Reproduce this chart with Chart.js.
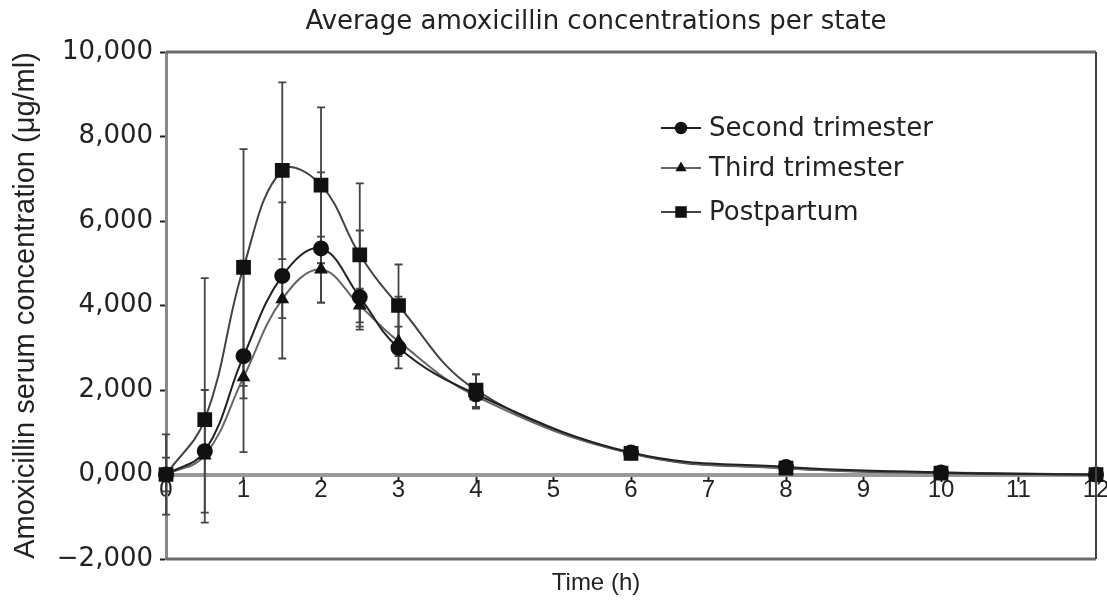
<!DOCTYPE html>
<html>
<head>
<meta charset="utf-8">
<script src="https://cdn.jsdelivr.net/npm/chart.js@4.4.1/dist/chart.umd.min.js"></script>
<style>
  html, body { margin: 0; padding: 0; background: #ffffff; }
  #wrap { width: 1107px; height: 601px; }
</style>
</head>
<body>
<div id="wrap"><canvas id="c" width="1107" height="601"></canvas></div>
<script>
// ---- data ----
const times = [0, 0.5, 1, 1.5, 2, 2.5, 3, 4, 6, 8, 10, 12];
const seriesLabels = ['Second trimester', 'Third trimester', 'Postpartum'];
const secondTrimester = [0, 550, 2800, 4700, 5350, 4200, 3000, 1900, 520, 180, 50, 0];
const thirdTrimester  = [0, 450, 2300, 4150, 4850, 4000, 3150, 1850, 500, 150, 50, 0];
const postpartum      = [0, 1300, 4900, 7200, 6850, 5200, 4000, 2000, 500, 150, 30, 0];
// error bar bounds (absolute values), null = no bar
const secondLow  = [null, -900, 530, 2745, 4070, 3430, 2510, 1560, null, null, null, null];
const secondHigh = [null, 2000, 5070, 6440, 7150, 5775, 3500, 2370, null, null, null, null];
const thirdLow   = [-400, null, 1800, 3700, 4070, 3600, 2800, 1600, null, null, null, null];
const thirdHigh  = [400, null, 2800, 4600, 5630, 4400, 4210, 2100, null, null, null, null];
const postLow    = [-950, -1140, 2100, 5100, 5000, 3500, 3030, 1600, null, null, null, null];
const postHigh   = [950, 4650, 7700, 9280, 8690, 6890, 4970, 2370, null, null, null, null];
const yTickValues = [-2000, 0, 2000, 4000, 6000, 8000, 10000];
const yTickLabels = ['\u22122,000', '0,000', '2,000', '4,000', '6,000', '8,000', '10,000'];
const xTickLabels = ['0','1','2','3','4','5','6','7','8','9','10','11','12'];
const chartTitle = 'Average amoxicillin concentrations per state';
const xTitle = 'Time (h)';
const yTitle = 'Amoxicillin serum concentration (\u03bcg/ml)';

const errBounds = [[secondLow, secondHigh], [thirdLow, thirdHigh], [postLow, postHigh]];
const toXY = arr => times.map((t, i) => ({ x: t, y: arr[i] }));

const FONT = "'Liberation Sans', Arial, sans-serif";
const WIDE = "'DejaVu Sans', sans-serif";
const NARROW = "'Liberation Sans Narrow', 'Liberation Sans', Arial, sans-serif";

const errorBarPlugin = {
  id: 'errorBars',
  beforeDatasetsDraw(chart) {
    const ctx = chart.ctx;
    const xs = chart.scales.x, ys = chart.scales.y;
    ctx.save();
    ctx.strokeStyle = '#444';
    ctx.lineWidth = 1.8;
    errBounds.forEach(([lo, hi]) => {
      times.forEach((t, i) => {
        if (lo[i] === null || hi[i] === null) return;
        const px = xs.getPixelForValue(t);
        const y1 = ys.getPixelForValue(lo[i]);
        const y2 = ys.getPixelForValue(hi[i]);
        ctx.beginPath();
        ctx.moveTo(px, y1); ctx.lineTo(px, y2);
        ctx.moveTo(px - 4, y1); ctx.lineTo(px + 4, y1);
        ctx.moveTo(px - 4, y2); ctx.lineTo(px + 4, y2);
        ctx.stroke();
      });
    });
    ctx.restore();
  }
};

const framePlugin = {
  id: 'frame',
  afterDraw(chart) {
    const { ctx, chartArea: a } = chart;
    ctx.save();
    ctx.strokeStyle = '#6b6b6b';
    ctx.lineWidth = 3;
    ctx.beginPath();
    ctx.moveTo(a.left, a.top); ctx.lineTo(a.right, a.top);
    ctx.moveTo(a.left, a.bottom); ctx.lineTo(a.right, a.bottom);
    ctx.stroke();
    ctx.lineWidth = 2;
    ctx.strokeStyle = '#444';
    ctx.beginPath();
    ctx.moveTo(a.right, a.top); ctx.lineTo(a.right, a.bottom);
    ctx.stroke();
    // chart title and x-axis title
    ctx.fillStyle = '#222';
    ctx.textAlign = 'center';
    ctx.textBaseline = 'middle';
    ctx.font = "26px " + WIDE;
    ctx.fillText(chartTitle, 596, 22);
    ctx.font = "24px " + FONT;
    ctx.fillText(xTitle, 596, 583);
    ctx.restore();
  }
};

const legendPlugin = {
  id: 'customLegend',
  afterDraw(chart) {
    const ctx = chart.ctx;
    const a = chart.chartArea;
    const x0 = a.left + 495, rowY = [128, 168, 212];
    ctx.save();
    chart.data.datasets.forEach((ds, i) => {
      const y = rowY[i];
      ctx.strokeStyle = ds.borderColor;
      ctx.lineWidth = 2;
      ctx.beginPath(); ctx.moveTo(x0, y); ctx.lineTo(x0 + 40, y); ctx.stroke();
      ctx.fillStyle = '#111';
      ctx.strokeStyle = '#111';
      Chart.helpers.drawPoint(ctx, {
        pointStyle: ds.pointStyle, radius: ds.pointRadius * 0.75, borderWidth: 1, rotation: 0
      }, x0 + 20, y);
      ctx.font = "26px " + WIDE;
      ctx.fillStyle = '#222';
      ctx.textBaseline = 'middle';
      ctx.textAlign = 'left';
      ctx.fillText(ds.label, x0 + 48, y + 1);
    });
    ctx.restore();
  }
};

const common = {
  showLine: true, tension: 0.4, borderWidth: 2, clip: false,
  pointBackgroundColor: '#111', pointBorderColor: '#111'
};

new Chart(document.getElementById('c'), {
  type: 'scatter',
  data: {
    datasets: [
      Object.assign({}, common, { label: seriesLabels[0], data: toXY(secondTrimester), borderColor: '#222', pointStyle: 'circle', pointRadius: 7 }),
      Object.assign({}, common, { label: seriesLabels[1], data: toXY(thirdTrimester), borderColor: '#666', pointStyle: 'triangle', pointRadius: 6 }),
      Object.assign({}, common, { label: seriesLabels[2], data: toXY(postpartum), borderColor: '#444', pointStyle: 'rect', pointRadius: 9 })
    ]
  },
  options: {
    responsive: false,
    animation: false,
    layout: { padding: { left: 9, right: 8, top: 52, bottom: 42 } },
    plugins: {
      legend: { display: false },
      tooltip: { enabled: false },
      title: { display: false }
    },
    scales: {
      x: {
        type: 'linear', min: 0, max: 12,
        position: { y: 0 },
        afterBuildTicks: s => { s.ticks = xTickLabels.map((l, i) => ({ value: i })); },
        afterFit: s => { s.paddingLeft = 0; s.paddingRight = 0; },
        ticks: { callback: (v, i) => xTickLabels[i], color: '#222', font: { family: NARROW, size: 24 }, padding: -4, maxRotation: 0, autoSkip: false },
        grid: { drawOnChartArea: false, drawTicks: true, tickLength: 5, tickColor: '#222', tickWidth: 2 },
        border: { display: true, color: '#999', width: 4 }
      },
      y: {
        type: 'linear', min: -2000, max: 10000,
        afterBuildTicks: s => { s.ticks = yTickValues.map(v => ({ value: v })); },
        ticks: { callback: (v) => yTickLabels[yTickValues.indexOf(v)], color: '#222', font: { family: WIDE, size: 26 }, padding: 7 },
        grid: { drawOnChartArea: false, drawTicks: true, tickLength: 6, tickColor: '#222', tickWidth: 2 },
        border: { display: true, color: '#888', width: 3 },
        title: { display: true, text: yTitle, color: '#222', font: { family: FONT, size: 29 }, padding: { top: 0, bottom: 6 } }
      }
    }
  },
  plugins: [errorBarPlugin, framePlugin, legendPlugin]
});
</script>
</body>
</html>
